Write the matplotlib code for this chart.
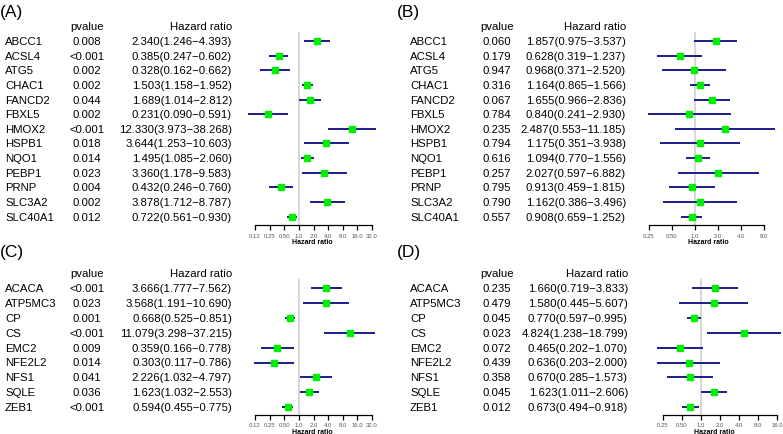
import numpy as np
import matplotlib
matplotlib.use("Agg")
import matplotlib.pyplot as plt
from matplotlib.transforms import blended_transform_factory

plt.rcParams['font.family'] = ['Liberation Sans', 'DejaVu Sans']

# ---------------- data ----------------
genes_a = ["ABCC1", "ACSL4", "ATG5", "CHAC1", "FANCD2", "FBXL5", "HMOX2",
           "HSPB1", "NQO1", "PEBP1", "PRNP", "SLC3A2", "SLC40A1"]
p_a = ["0.008", "<0.001", "0.002", "0.002", "0.044", "0.002", "<0.001",
       "0.018", "0.014", "0.023", "0.004", "0.002", "0.012"]
hr_a = [2.340, 0.385, 0.328, 1.503, 1.689, 0.231, 12.330, 3.644, 1.495, 3.360, 0.432, 3.878, 0.722]
lo_a = [1.246, 0.247, 0.162, 1.158, 1.014, 0.090, 3.973, 1.253, 1.085, 1.178, 0.246, 1.712, 0.561]
hi_a = [4.393, 0.602, 0.662, 1.952, 2.812, 0.591, 38.268, 10.603, 2.060, 9.583, 0.760, 8.787, 0.930]

genes_b = genes_a
p_b = ["0.060", "0.179", "0.947", "0.316", "0.067", "0.784", "0.235",
       "0.794", "0.616", "0.257", "0.795", "0.790", "0.557"]
hr_b = [1.857, 0.628, 0.968, 1.164, 1.655, 0.840, 2.487, 1.175, 1.094, 2.027, 0.913, 1.162, 0.908]
lo_b = [0.975, 0.319, 0.371, 0.865, 0.966, 0.241, 0.553, 0.351, 0.770, 0.597, 0.459, 0.386, 0.659]
hi_b = [3.537, 1.237, 2.520, 1.566, 2.836, 2.930, 11.185, 3.938, 1.556, 6.882, 1.815, 3.496, 1.252]

genes_c = ["ACACA", "ATP5MC3", "CP", "CS", "EMC2", "NFE2L2", "NFS1", "SQLE", "ZEB1"]
p_c = ["<0.001", "0.023", "0.001", "<0.001", "0.009", "0.014", "0.041", "0.036", "<0.001"]
hr_c = [3.666, 3.568, 0.668, 11.079, 0.359, 0.303, 2.226, 1.623, 0.594]
lo_c = [1.777, 1.191, 0.525, 3.298, 0.166, 0.117, 1.032, 1.032, 0.455]
hi_c = [7.562, 10.690, 0.851, 37.215, 0.778, 0.786, 4.797, 2.553, 0.775]

genes_d = genes_c
p_d = ["0.235", "0.479", "0.045", "0.023", "0.072", "0.439", "0.358", "0.045", "0.012"]
hr_d = [1.660, 1.580, 0.770, 4.824, 0.465, 0.636, 0.670, 1.623, 0.673]
lo_d = [0.719, 0.445, 0.597, 1.238, 0.202, 0.203, 0.285, 1.011, 0.494]
hi_d = [3.833, 5.607, 0.995, 18.799, 1.070, 2.000, 1.573, 2.606, 0.918]

ticks_a = [0.125, 0.25, 0.5, 1, 2, 4, 8, 16, 32]
ticklab_a = ["0.12", "0.25", "0.50", "1.0", "2.0", "4.0", "8.0", "16.0", "32.0"]
ticks_b = [0.25, 0.5, 1, 2, 4, 8]
ticklab_b = ["0.25", "0.50", "1.0", "2.0", "4.0", "8.0"]
ticks_d = [0.25, 0.5, 1, 2, 4, 8, 16]
ticklab_d = ["0.25", "0.50", "1.0", "2.0", "4.0", "8.0", "16.0"]

# ---------------- figure ----------------
W, H = 783, 435
fig = plt.figure(figsize=(W / 100, H / 100), dpi=100)

LINE_C = "#1c1c8c"
BOX_C = "#00ee00"
FS = 8.2


def panel(label, genes, pv, hr, lo, hi, ticks, ticklabs,
          lab_xy, gx, px, hx, tick_px, ax_lr, y0, dy, axis_y, top_y):
    n = len(genes)
    t0, t1 = np.log2(ticks[0]), np.log2(ticks[-1])
    k = (tick_px[1] - tick_px[0]) / (t1 - t0)
    L, R = ax_lr
    xl = 2 ** (t0 - (tick_px[0] - L) / k)
    xr = 2 ** (t1 + (R - tick_px[1]) / k)
    ax = fig.add_axes([L / W, 1 - axis_y / H, (R - L) / W, (axis_y - top_y) / H])
    ax.set_xscale('log', base=2)
    ax.set_xlim(xl, xr)
    ax.set_ylim((axis_y - y0) / dy, (top_y - y0) / dy)
    ax.patch.set_visible(False)
    for s in ['top', 'right', 'left']:
        ax.spines[s].set_visible(False)
    ax.spines['bottom'].set_bounds(ticks[0], ticks[-1])
    ax.spines['bottom'].set_linewidth(0.9)
    ax.set_yticks([])
    ax.set_xticks(ticks)
    ax.set_xticklabels(ticklabs, fontsize=4.3, color="#555555")
    ax.xaxis.set_minor_locator(matplotlib.ticker.NullLocator())
    ax.tick_params(axis='x', length=3.5, width=0.9, pad=2)
    ax.set_xlabel("Hazard ratio", fontsize=5, fontweight='bold', labelpad=0.5)
    ax.axvline(1, color="#d4d4d4", lw=1.3, zorder=1)
    ys = np.arange(n)
    ax.hlines(ys, lo, hi, color=LINE_C, lw=1.4, zorder=2, clip_on=False)
    ax.plot(hr, ys, 's', color=BOX_C, ms=4.4, mec=BOX_C, zorder=3, clip_on=False)

    tr = blended_transform_factory(fig.transFigure, ax.transData)
    for i in range(n):
        fig.text(gx / W, i, genes[i], transform=tr, fontsize=FS, ha='left', va='center')
        fig.text(px / W, i, pv[i], transform=tr, fontsize=FS, ha='center', va='center')
        s = f"{hr[i]:.3f}({lo[i]:.3f}\u2212{hi[i]:.3f})"
        fig.text(hx / W, i, s, transform=tr, fontsize=FS, ha='right', va='center')
    fig.text(px / W, -1, "pvalue", transform=tr, fontsize=FS, ha='center', va='center')
    fig.text(hx / W, -1, "Hazard ratio", transform=tr, fontsize=FS, ha='right', va='center')
    fig.text(lab_xy[0] / W, 1 - lab_xy[1] / H, label, fontsize=12.5, ha='left', va='center')
    return ax


panel("(A)", genes_a, p_a, hr_a, lo_a, hi_a, ticks_a, ticklab_a,
      (0, 13), 5, 87, 232, (255, 372), (240, 385), 42, 14.64, 226, 33)
panel("(B)", genes_b, p_b, hr_b, lo_b, hi_b, ticks_b, ticklab_b,
      (397, 13), 410, 497, 626, (649, 764), (634, 783), 42, 14.64, 226, 33)
panel("(C)", genes_c, p_c, hr_c, lo_c, hi_c, ticks_a, ticklab_a,
      (0, 252), 5, 87, 232, (255, 372), (240, 385), 289, 14.9, 415.5, 280)
panel("(D)", genes_d, p_d, hr_d, lo_d, hi_d, ticks_d, ticklab_d,
      (397, 252), 410, 497, 628, (663, 777), (645, 783), 289, 14.9, 415.5, 280)

fig.savefig("out.png", dpi=100)
